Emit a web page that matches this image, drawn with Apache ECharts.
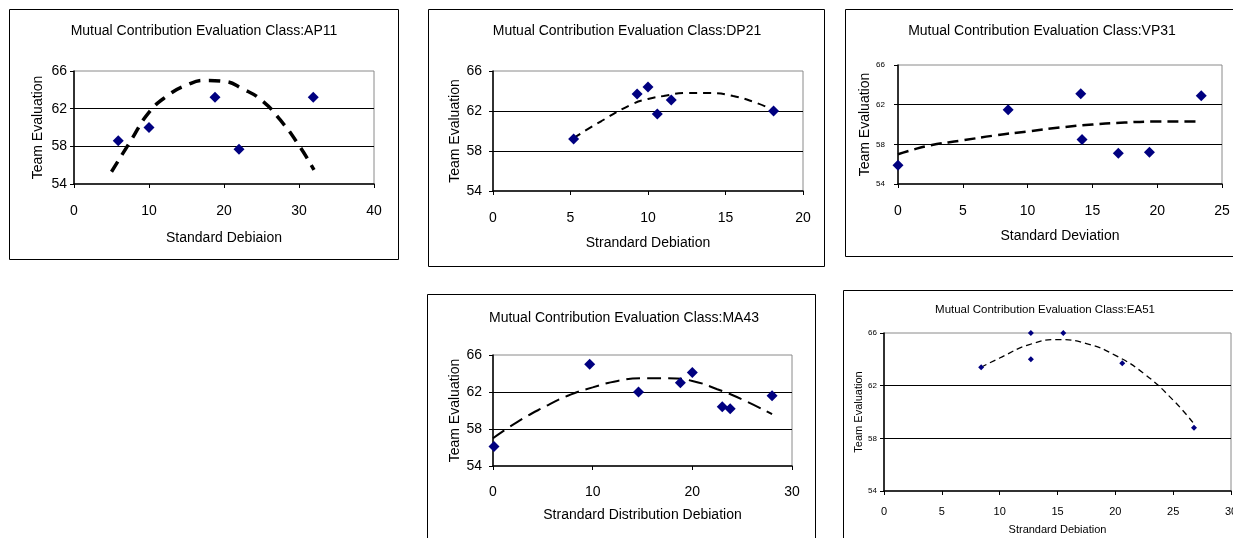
<!DOCTYPE html>
<html>
<head>
<meta charset="utf-8">
<script src="https://cdn.jsdelivr.net/npm/echarts@6/dist/echarts.min.js"></script>
<style>
html,body{margin:0;padding:0;background:#fff;}
#c{width:1233px;height:538px;}
</style>
</head>
<body>
<div id="c"></div>
<script>
// ---- Data ----
const titles = [
  'Mutual Contribution Evaluation Class:AP11',
  'Mutual Contribution Evaluation Class:DP21',
  'Mutual Contribution Evaluation Class:VP31',
  'Mutual Contribution Evaluation Class:MA43',
  'Mutual Contribution Evaluation Class:EA51'
];
const xNames = ['Standard Debiaion', 'Strandard Debiation', 'Standard Deviation', 'Strandard Distribution Debiation', 'Strandard Debiation'];
const yName = 'Team Evaluation';
const xMax = [40, 20, 25, 30, 30];
const xStep = [10, 5, 5, 10, 5];
const yMin = 54, yMax = 66, yStep = 4;

// AP11
const ap11X = [5.9, 10.0, 18.8, 22.0, 31.9];
const ap11Y = [58.6, 60.0, 63.2, 57.7, 63.2];
const ap11TrendX = [5, 7.5, 10, 12.5, 15, 17.5, 20, 22.5, 25, 27.5, 30, 32];
const ap11TrendY = [55.3, 58.5, 61.6, 63.4, 64.5, 65.0, 64.9, 64.1, 62.9, 60.8, 58.1, 55.5];
// DP21
const dp21X = [5.2, 9.3, 10.0, 10.6, 11.5, 18.1];
const dp21Y = [59.2, 63.7, 64.4, 61.7, 63.1, 62.0];
const dp21TrendX = [5.2, 7, 9, 10, 11, 12.5, 14, 15.5, 17, 18.1];
const dp21TrendY = [59.3, 61.0, 62.7, 63.2, 63.5, 63.8, 63.8, 63.5, 62.8, 62.1];
// VP31
const vp31X = [0.0, 8.5, 14.1, 14.2, 17.0, 19.4, 23.4];
const vp31Y = [55.9, 61.5, 63.1, 58.5, 57.1, 57.2, 62.9];
const vp31TrendX = [0, 1, 2.5, 5, 7.5, 10, 12.5, 15, 17.5, 20, 23.4];
const vp31TrendY = [57.0, 57.4, 57.9, 58.4, 58.9, 59.3, 59.7, 60.0, 60.2, 60.3, 60.3];
// MA43
const ma43X = [0.1, 9.7, 14.6, 18.8, 20.0, 23.0, 23.8, 28.0];
const ma43Y = [56.1, 65.0, 62.0, 63.0, 64.1, 60.4, 60.2, 61.6];
const ma43TrendX = [0, 2.5, 5, 7.5, 10, 12.5, 15, 17.5, 20, 22.5, 25, 28];
const ma43TrendY = [57.0, 58.8, 60.3, 61.6, 62.5, 63.2, 63.5, 63.5, 63.2, 62.3, 61.2, 59.6];
// EA51
const ea51X = [8.4, 12.7, 12.7, 15.5, 20.6, 26.8];
const ea51Y = [63.4, 66.0, 64.0, 66.0, 63.7, 58.8];
const ea51TrendX = [8.4, 10, 12.5, 15, 17.5, 20, 22.5, 25, 26.8];
const ea51TrendY = [63.4, 64.1, 65.1, 65.5, 65.2, 64.3, 62.9, 60.9, 59.1];

const pointSets = [[ap11X, ap11Y], [dp21X, dp21Y], [vp31X, vp31Y], [ma43X, ma43Y], [ea51X, ea51Y]];
const trendSets = [[ap11TrendX, ap11TrendY], [dp21TrendX, dp21TrendY], [vp31TrendX, vp31TrendY], [ma43TrendX, ma43TrendY], [ea51TrendX, ea51TrendY]];

// ---- Layout / style ----
const FONT = 'Liberation Sans';
const layout = [
  {grid:{left:74,top:71,width:300,height:113}, tx:204, ty:24, tfs:14, yfs:14, ym:7, xfs:14, xm:20, nfs:14, xg:47, yg:29, box:[9.5,9.5,389,250], ms:11, lw:3.5, dash:[12,8]},
  {grid:{left:493,top:71,width:310,height:120}, tx:627, ty:24, tfs:14, yfs:14, ym:11, xfs:14, xm:20, nfs:14, xg:45, yg:29, box:[428.5,9.5,396,257], ms:11, lw:2, dash:[8,6]},
  {grid:{left:898,top:65,width:324,height:119}, tx:1042, ty:24, tfs:14, yfs:8, ym:13, xfs:14, xm:20, nfs:14, xg:45, yg:18, box:[845.5,9.5,400,247], ms:11, lw:2.5, dash:[11,6]},
  {grid:{left:493,top:355,width:299,height:111}, tx:624, ty:311, tfs:14, yfs:14, ym:11, xfs:14, xm:19, nfs:14, xg:42, yg:29, box:[427.5,294.5,388,260], ms:11, lw:2, dash:[14,7]},
  {grid:{left:884,top:333,width:347,height:158}, tx:1045, ty:304, tfs:11.5, yfs:8, ym:7, xfs:11, xm:15, nfs:11, xg:33, yg:18, box:[843.5,290.5,400,260], ms:6, lw:1.3, dash:[6,4]}
];

const grids = [], xAxes = [], yAxes = [], series = [], titleArr = [], graphics = [];
layout.forEach((L, i) => {
  grids.push(Object.assign({show:true, borderColor:'#8a8a8a', borderWidth:1, backgroundColor:'#fff', containLabel:false, outerBoundsMode:'none'}, L.grid));
  titleArr.push({text:titles[i], left:L.tx, top:L.ty, textAlign:'center', padding:0,
    textStyle:{fontFamily:FONT, fontSize:L.tfs, fontWeight:'normal', color:'#000'}});
  xAxes.push({type:'value', gridIndex:i, min:0, max:xMax[i], interval:xStep[i],
    name:xNames[i], nameLocation:'middle', nameGap:L.xg,
    nameTextStyle:{fontFamily:FONT, fontSize:L.nfs, color:'#000'},
    axisLine:{show:true, onZero:false, lineStyle:{color:'#000', width:1.5}},
    axisTick:{show:true, length:4, lineStyle:{color:'#000'}},
    axisLabel:{fontFamily:FONT, fontSize:L.xfs, color:'#000', margin:L.xm},
    splitLine:{show:false}});
  yAxes.push({type:'value', gridIndex:i, min:yMin, max:yMax, interval:yStep,
    name:yName, nameLocation:'middle', nameGap:L.yg,
    nameTextStyle:{fontFamily:FONT, fontSize:L.nfs, color:'#000'},
    axisLine:{show:true, onZero:false, lineStyle:{color:'#000', width:1.5}},
    axisTick:{show:true, length:4, lineStyle:{color:'#000'}},
    axisLabel:{fontFamily:FONT, fontSize:L.yfs, color:'#000', margin:L.ym},
    splitLine:{show:true, showMinLine:false, showMaxLine:false, lineStyle:{color:'#000', width:1}}});
  const tr = trendSets[i];
  series.push({type:'line', xAxisIndex:i, yAxisIndex:i, smooth:true, symbol:'none', silent:true,
    data: tr[0].map((x, k) => [x, tr[1][k]]),
    lineStyle:{color:'#000', width:L.lw, type:L.dash}, z:3});
  const ps = pointSets[i];
  series.push({type:'scatter', xAxisIndex:i, yAxisIndex:i, symbol:'diamond', symbolSize:L.ms,
    data: ps[0].map((x, k) => [x, ps[1][k]]),
    itemStyle:{color:'#000080', opacity:1}, z:4});
  graphics.push({type:'rect', shape:{x:L.box[0], y:L.box[1], width:L.box[2], height:L.box[3]},
    style:{fill:'none', stroke:'#000', lineWidth:1}, z:100, silent:true});
});

const chart = echarts.init(document.getElementById('c'), null, {renderer:'canvas'});
chart.setOption({
  animation:false,
  backgroundColor:'#fff',
  title:titleArr,
  grid:grids,
  xAxis:xAxes,
  yAxis:yAxes,
  series:series,
  graphic:graphics
});
</script>
</body>
</html>
